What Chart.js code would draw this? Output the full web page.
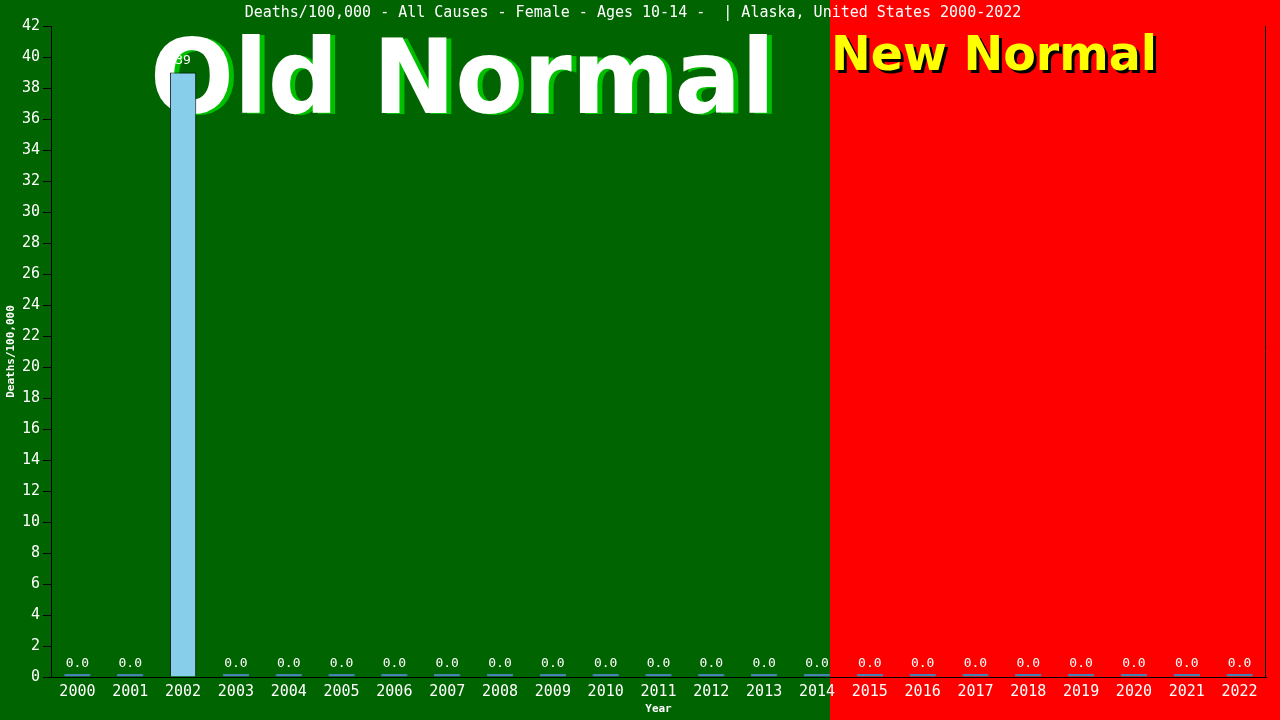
<!DOCTYPE html>
<html>
<head>
<meta charset="utf-8">
<script src="https://cdn.jsdelivr.net/npm/chart.js@4.4.0/dist/chart.umd.min.js"></script>
<style>
  html, body { margin: 0; padding: 0; background: #006400; }
  #wrap { width: 1280px; height: 720px; }
</style>
</head>
<body>
<div id="wrap"><canvas id="chart" width="1280" height="720"></canvas></div>
<script>
const years = ['2000','2001','2002','2003','2004','2005','2006','2007','2008','2009','2010','2011',
  '2012','2013','2014','2015','2016','2017','2018','2019','2020','2021','2022'];
const deathsPer100k = [0, 0, 39, 0, 0, 0, 0, 0, 0, 0, 0, 0, 0, 0, 0, 0, 0, 0, 0, 0, 0, 0, 0];
const yTicks = [0, 2, 4, 6, 8, 10, 12, 14, 16, 18, 20, 22, 24, 26, 28, 30, 32, 34, 36, 38, 40, 42];

const mono = "'DejaVu Sans Mono', monospace";

// green / red halves, big captions behind the bars
const backdrop = {
  id: 'backdrop',
  beforeDraw(chart) {
    const c = chart.ctx;
    c.save();
    c.fillStyle = '#006400';
    c.fillRect(0, 0, chart.width, chart.height);
    c.fillStyle = '#ff0000';
    c.fillRect(830, 0, chart.width - 830, chart.height);
    c.restore();
  },
  beforeDatasetsDraw(chart) {
    const c = chart.ctx;
    c.save();
    c.textBaseline = 'alphabetic';
    c.textAlign = 'left';
    c.font = "bold 104px 'DejaVu Sans'";
    c.fillStyle = '#00c000';
    c.fillText('Old Normal', 155, 114, 625);
    c.fillStyle = '#ffffff';
    c.fillText('Old Normal', 150, 113, 625);
    c.font = "bold 48px 'DejaVu Sans'";
    c.fillStyle = '#000000';
    c.fillText('New Normal', 834, 73, 326);
    c.fillStyle = '#ffff00';
    c.fillText('New Normal', 831, 70, 326);
    c.restore();
  },
  afterDatasetsDraw(chart) {
    const c = chart.ctx;
    const a = chart.chartArea;
    c.save();
    // right frame line
    c.strokeStyle = '#000';
    c.lineWidth = 1;
    c.beginPath();
    c.moveTo(a.right - 0.5, a.top);
    c.lineTo(a.right - 0.5, a.bottom);
    c.stroke();
    // value labels
    c.font = '13px ' + mono;
    c.fillStyle = '#fff';
    c.textAlign = 'center';
    c.textBaseline = 'bottom';
    chart.getDatasetMeta(0).data.forEach(function(bar, i) {
      const v = deathsPer100k[i];
      const txt = v === 0 ? v.toFixed(1) : String(v);
      const top = v === 0 ? a.bottom - 2 : bar.y;
      c.fillText(txt, bar.x, top - 5);
    });
    c.restore();
  }
};

new Chart(document.getElementById('chart'), {
  type: 'bar',
  data: {
    labels: years,
    datasets: [{
      data: deathsPer100k,
      backgroundColor: function(ctx) { return ctx.raw > 0 ? '#87ceeb' : '#4682b4'; },
      borderColor: function(ctx) { return ctx.raw > 0 ? '#000' : '#4682b4'; },
      borderWidth: 1,
      minBarLength: 3,
      barPercentage: 0.5,
      categoryPercentage: 1
    }]
  },
  options: {
    responsive: false,
    animation: false,
    devicePixelRatio: 1,
    layout: { padding: { left: 0, right: 14, top: 0, bottom: 0 } },
    plugins: {
      legend: { display: false },
      tooltip: { enabled: false },
      title: {
        display: true,
        text: 'Deaths/100,000 - All Causes - Female - Ages 10-14 -  | Alaska, United States 2000-2022',
        color: '#fff',
        font: { family: mono, size: 15, weight: 'normal' },
        padding: { top: 4, bottom: 4 }
      }
    },
    scales: {
      x: {
        offset: true,
        grid: { display: false, drawTicks: false },
        border: { display: true, color: '#000', width: 1 },
        ticks: { color: '#fff', font: { family: mono, size: 15 }, padding: 6, maxRotation: 0, autoSkip: false },
        title: { display: true, text: 'Year', color: '#fff', font: { family: mono, size: 11, weight: 'bold' }, padding: { top: 0, bottom: 4 } },
        afterFit(s) { s.height = 43; }
      },
      y: {
        min: 0,
        max: 42,
        afterBuildTicks(s) { s.ticks = yTicks.map(v => ({ value: v })); },
        grid: { display: true, drawOnChartArea: false, drawTicks: true, tickLength: 8, color: '#000' },
        border: { display: true, color: '#000', width: 1 },
        ticks: { color: '#fff', font: { family: mono, size: 15 }, padding: 3 },
        title: { display: true, text: 'Deaths/100,000', color: '#fff', font: { family: mono, size: 11, weight: 'bold' }, padding: { top: 5, bottom: 0 } },
        afterFit(s) { s.width = 51; }
      }
    }
  },
  plugins: [backdrop]
});
</script>
</body>
</html>
